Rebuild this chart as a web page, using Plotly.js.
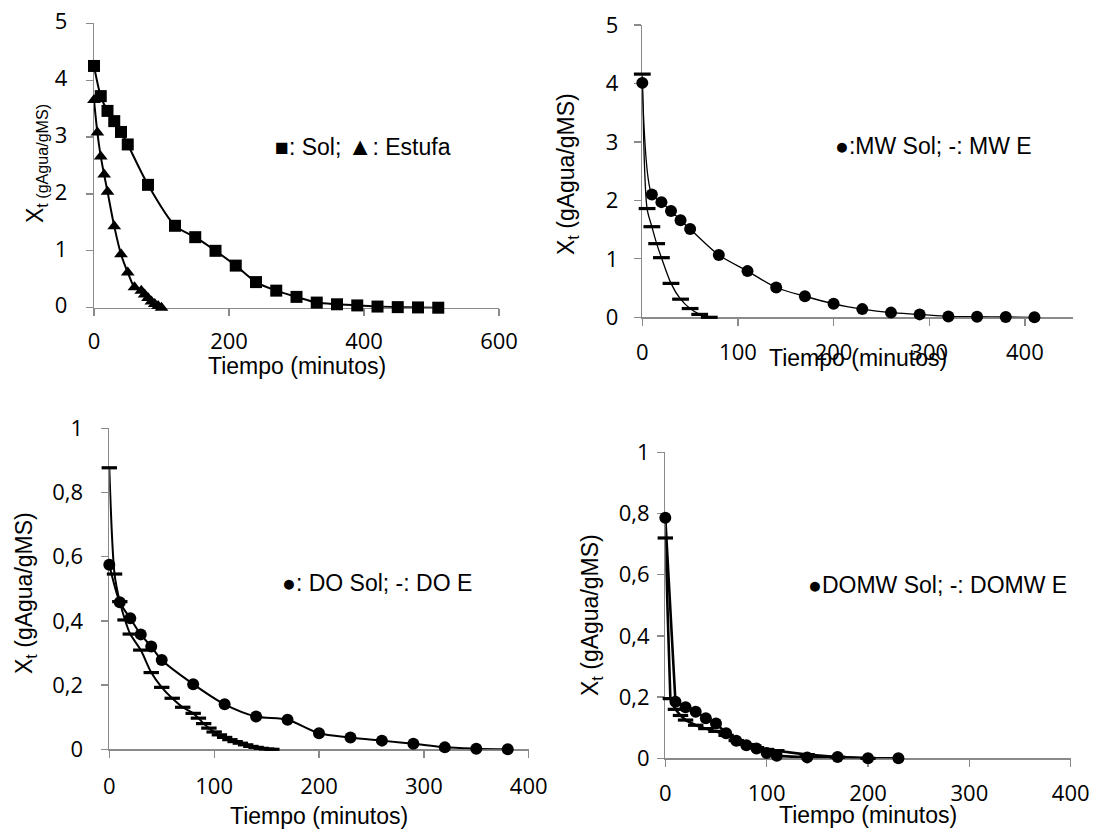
<!DOCTYPE html>
<html><head><meta charset="utf-8">
<script src="https://cdn.plot.ly/plotly-3.0.1.min.js"></script>
<style>html,body{margin:0;padding:0;background:#fff}#chart{width:1093px;height:829px}</style>
</head><body><div id="chart"></div>
<script>
// ---------- Panel 1: Sol / Estufa ----------
const solTime = [0,10,20,30,40,50,80,120,150,180,210,240,270,300,330,360,390,420,450,480,510];
const solX = [4.25,3.72,3.46,3.28,3.09,2.87,2.16,1.44,1.24,1.00,0.74,0.45,0.30,0.19,0.09,0.06,0.04,0.02,0.01,0.005,0.0];
const estufaTime = [0,5,10,15,20,30,40,50,60,70,75,80,85,90,95,100];
const estufaX = [3.65,3.08,2.66,2.34,2.04,1.43,0.94,0.62,0.36,0.30,0.23,0.17,0.11,0.065,0.03,0.0];
// ---------- Panel 2: MW Sol / MW E ----------
const mwSolTime = [0,10,20,30,40,50,80,110,140,170,200,230,260,290,320,350,380,410];
const mwSolX = [4.01,2.10,1.97,1.82,1.66,1.51,1.065,0.79,0.51,0.36,0.23,0.14,0.08,0.05,0.015,0.01,0.005,0.0];
const mwETime = [0,5,10,15,20,30,40,50,60,70];
const mwEX = [4.16,1.86,1.55,1.26,1.02,0.58,0.31,0.15,0.05,0.0];
// ---------- Panel 3: DO Sol / DO E ----------
const doSolTime = [0,10,20,30,40,50,80,110,140,170,200,230,260,290,320,350,380];
const doSolX = [0.575,0.458,0.408,0.358,0.32,0.278,0.203,0.14,0.102,0.092,0.05,0.037,0.027,0.017,0.006,0.002,0.0];
const doETime = [0,5,10,15,20,30,40,50,60,70,80,85,90,95,100,105,110,115,120,125,130,135,140,145,150,155];
const doEX = [0.877,0.546,0.46,0.403,0.359,0.309,0.239,0.193,0.159,0.131,0.112,0.097,0.08,0.066,0.054,0.045,0.037,0.03,0.024,0.019,0.014,0.009,0.006,0.003,0.001,0.0];
// ---------- Panel 4: DOMW Sol / DOMW E ----------
const domwSolTime = [0,10,20,30,40,50,60,70,80,90,100,110,140,170,200,230];
const domwSolX = [0.786,0.185,0.167,0.152,0.131,0.114,0.082,0.057,0.043,0.032,0.017,0.008,0.003,0.004,0.0,0.0];
const domwETime = [0,5,10,15,20,30,40,50,60,70,80,90,100,110,140,170,200];
const domwEX = [0.72,0.195,0.16,0.14,0.125,0.108,0.097,0.088,0.075,0.058,0.045,0.035,0.029,0.025,0.012,0.004,0.0];

// ---------- Tick labels ----------
const bigYVals = [0,1,2,3,4,5];
const bigYText = ['0','1','2','3','4','5'];
const smallYVals = [0,0.2,0.4,0.6,0.8,1];
const smallYText = ['0','0,2','0,4','0,6','0,8','1'];
const x600Vals = [0,200,400,600];
const x400Vals = [0,100,200,300,400];

// ---------- Texts ----------
const legend1 = '■: Sol; <span style="font-size:25px">▲</span>: Estufa';
const legend2 = '●:MW Sol; -: MW E';
const legend3 = '●: DO Sol; -: DO E';
const legend4 = '●DOMW Sol; -: DOMW E';
const xTitle = 'Tiempo (minutos)';
const yTitle1 = 'X<sub>t (gAgua/gMS)</sub>';
const yTitle = 'X<sub>t</sub> (gAgua/gMS)';

const W = 1093, H = 829;
const px = v => v / W;
const py = v => 1 - v / H;
const TF = 'Open Sans, Liberation Sans, sans-serif';
const AF = 'Liberation Sans, Arial, sans-serif';

function axis(dom, range, vals, text, anchor, standoff, showLabels) {
  return {
    domain: dom, range: range, tickmode: 'array', tickvals: vals, ticktext: text.map(String), anchor: anchor,
    showline: true, linecolor: '#8a8a8a', linewidth: 1.3, ticks: 'outside', ticklen: 7,
    tickwidth: 1.3, tickcolor: '#8a8a8a', showgrid: false, zeroline: false,
    layer: 'below traces', automargin: false, fixedrange: true, ticklabelstandoff: standoff,
    showticklabels: showLabels !== false,
    tickfont: {family: TF, size: 22, color: '#000'}
  };
}
// label-only y axis placed at a free x position
function labelAxis(over, range, vals, text, pos) {
  return {
    overlaying: over, anchor: 'free', position: pos, side: 'left', range: range,
    tickmode: 'array', tickvals: vals, ticktext: text.map(String),
    showline: false, ticks: '', showgrid: false, zeroline: false, automargin: false, fixedrange: true,
    tickfont: {family: TF, size: 22, color: '#000'}
  };
}

function tr(x, y, xa, ya, sym, lw, shape, msize) {
  const dash = sym === 'line-ew';
  return {
    x: x, y: y, xaxis: xa, yaxis: ya, type: 'scatter', mode: 'lines+markers', cliponaxis: false,
    line: {color: '#000', width: lw, shape: shape, smoothing: 0.8},
    marker: dash ? {symbol: sym, size: msize || 12, line: {width: 3.2, color: '#000'}}
                 : {symbol: sym, size: msize || 12, color: '#000', line: {width: 0}},
    showlegend: false, hoverinfo: 'skip'
  };
}

const data = [
  tr(solTime, solX, 'x', 'y', 'square', 2, 'spline', 12),
  tr(estufaTime, estufaX, 'x', 'y', 'triangle-up', 2, 'spline', 12),
  tr(mwETime, mwEX, 'x2', 'y2', 'line-ew', 1.3, 'spline', 12),
  tr(mwSolTime, mwSolX, 'x2', 'y2', 'circle', 1.3, 'spline', 12),
  tr(doETime, doEX, 'x3', 'y3', 'line-ew', 2, 'spline', 11),
  tr(doSolTime, doSolX, 'x3', 'y3', 'circle', 2, 'spline', 12),
  tr(domwETime, domwEX, 'x4', 'y4', 'line-ew', 2.6, 'linear', 11),
  tr(domwSolTime, domwSolX, 'x4', 'y4', 'circle', 2.6, 'linear', 12),
  // empty helper traces so the label-only axes get drawn
  {x: [], y: [], xaxis: 'x2', yaxis: 'y5', type: 'scatter', mode: 'markers', showlegend: false},
  {x: [], y: [], xaxis: 'x3', yaxis: 'y6', type: 'scatter', mode: 'markers', showlegend: false},
  {x: [], y: [], xaxis: 'x4', yaxis: 'y7', type: 'scatter', mode: 'markers', showlegend: false}
];

function ann(text, x, y, size, angle) {
  return {text: text, xref: 'paper', yref: 'paper', x: px(x), y: py(y), xanchor: 'center', yanchor: 'middle',
          showarrow: false, textangle: angle || 0, font: {family: AF, size: size, color: '#000'}};
}

const layout = {
  width: W, height: H, margin: {l: 0, r: 0, t: 0, b: 0}, paper_bgcolor: '#fff', plot_bgcolor: 'rgba(0,0,0,0)',
  showlegend: false,
  xaxis: axis([px(94), px(499)], [0, 600], x600Vals, x600Vals, 'y', 7),
  yaxis: Object.assign(axis([py(307.7), py(23.3)], [0, 5], bigYVals, bigYText, 'x', 14), {ticklabelshift: -2}),
  xaxis2: axis([px(642.3), px(1072.7)], [0, 450], x400Vals, x400Vals, 'y2', 8),
  yaxis2: axis([py(317.3), py(25)], [0, 5], bigYVals, bigYText, 'x2', 0, false),
  xaxis3: axis([px(109.3), px(528.7)], [0, 400], x400Vals, x400Vals, 'y3', 10),
  yaxis3: axis([py(749.3), py(428.3)], [0, 1], smallYVals, smallYText, 'x3', 0, false),
  xaxis4: axis([px(665.3), px(1070.7)], [0, 400], x400Vals, x400Vals, 'y4', 8),
  yaxis4: axis([py(758.3), py(452.3)], [0, 1], smallYVals, smallYText, 'x4', 0, false),
  yaxis5: labelAxis('y2', [0, 5], bigYVals, bigYText, px(618.3)),
  yaxis6: labelAxis('y3', [0, 1], smallYVals, smallYText, px(83)),
  yaxis7: labelAxis('y4', [0, 1], smallYVals, smallYText, px(649.5)),
  annotations: [
    ann(legend1, 363, 146, 23), ann(legend2, 933, 146, 23), ann(legend3, 377, 583, 23), ann(legend4, 937, 585, 23),
    ann(xTitle, 296.5, 366, 23), ann(xTitle, 858, 358, 23), ann(xTitle, 319, 816, 23), ann(xTitle, 868, 815, 23),
    ann(yTitle1, 37, 164, 23, -90), ann(yTitle, 567, 174, 23, -90), ann(yTitle, 25, 593, 23, -90), ann(yTitle, 591, 615, 23, -90)
  ]
};

Plotly.newPlot('chart', data, layout, {staticPlot: true, displayModeBar: false});
</script>
</body></html>
